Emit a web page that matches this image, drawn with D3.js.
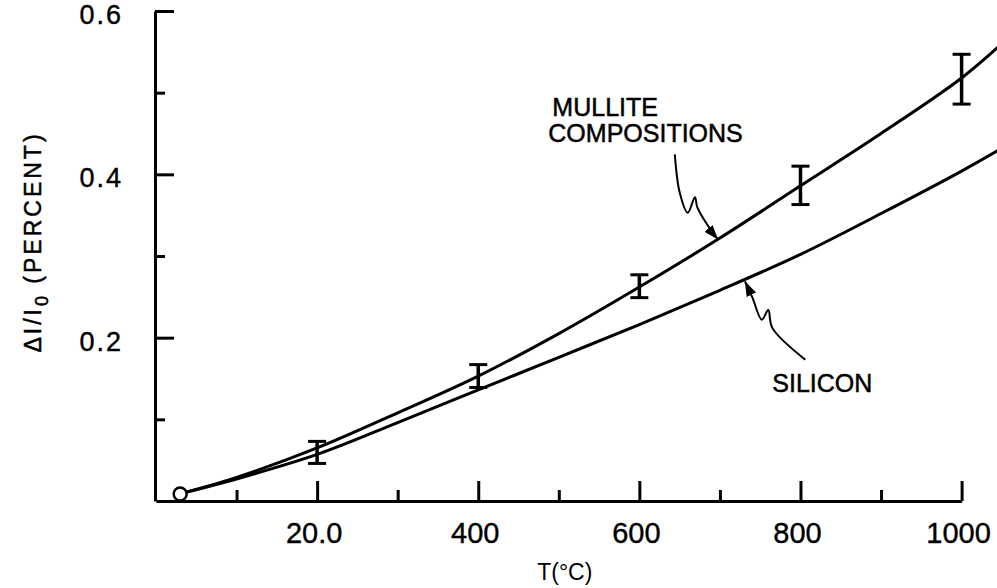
<!DOCTYPE html>
<html><head><meta charset="utf-8">
<script src="https://cdn.jsdelivr.net/npm/d3@7"></script>
<style>html,body{margin:0;padding:0;background:#fff;} svg{display:block;}</style>
</head><body>
<svg id="c" width="997" height="588"></svg>
<script>
// ---- data ----
const temps    = [30, 100, 200, 300, 400, 500, 600, 700, 800, 900, 1000, 1050];
const mullite  = [0.009, 0.029, 0.065, 0.108, 0.153, 0.205, 0.262, 0.322, 0.386, 0.450, 0.518, 0.560];
const silicon  = [0.009, 0.027, 0.057, 0.096, 0.136, 0.176, 0.216, 0.258, 0.302, 0.352, 0.404, 0.432];
const errT     = [200, 400, 600, 800, 1000];
const errLow   = [0.046, 0.139, 0.249, 0.363, 0.486];
const errHigh  = [0.073, 0.167, 0.277, 0.410, 0.547];
const startPt  = {t: 30, v: 0.0086};
const xMajor   = [200, 400, 600, 800, 1000];
const xMinor   = [100, 300, 500, 700, 900];
const xLabels  = ["20.0", "400", "600", "800", "1000"];
const yMajor   = [0.2, 0.4, 0.6];
const yMinor   = [0.1, 0.3, 0.5];
const yLabels  = ["0.2", "0.4", "0.6"];
// leader lines (data space)
const mulliteLeader = [[644,0.4245],[650,0.378],[660,0.353],[669,0.372],[672,0.3595],[690,0.330],[698,0.320]];
const siliconLeader = [[806,0.173],[765,0.212],[760,0.234],[752,0.222],[740,0.250],[731,0.269]];

const svg = d3.select("#c");
const x = d3.scaleLinear().domain([0, 1000]).range([156, 961.6]);
const y = d3.scaleLinear().domain([0, 0.6]).range([501, 11]);
const FONT = "'Liberation Sans', Arial, sans-serif";

svg.append("defs").append("marker")
  .attr("id","ah").attr("viewBox","0 0 10 10").attr("refX",10).attr("refY",5)
  .attr("markerWidth",15).attr("markerHeight",15).attr("markerUnits","userSpaceOnUse")
  .attr("orient","auto")
  .append("path").attr("d","M0,1.5 L10,5 L0,8.5 Z").attr("fill","#000");

// axes
const gx = svg.append("g").attr("transform",`translate(0,${y(0)})`);
gx.call(d3.axisBottom(x).tickValues(xMajor).tickSizeInner(-20).tickSizeOuter(0).tickFormat(""));
const gx2 = svg.append("g").attr("transform",`translate(0,${y(0)})`);
gx2.call(d3.axisBottom(x).tickValues(xMinor).tickSizeInner(-11).tickSizeOuter(0).tickFormat(""));
gx2.select(".domain").remove();
const gy = svg.append("g").attr("transform",`translate(${x(0)-1},0)`);
gy.call(d3.axisLeft(y).tickValues(yMajor).tickSizeInner(-19).tickSizeOuter(0).tickFormat(""));
const gy2 = svg.append("g").attr("transform",`translate(${x(0)-1},0)`);
gy2.call(d3.axisLeft(y).tickValues(yMinor).tickSizeInner(-10).tickSizeOuter(0).tickFormat(""));
gy2.select(".domain").remove();
svg.selectAll(".domain, .tick line").attr("stroke","#000").attr("stroke-width",3);

// tick labels
svg.append("g").selectAll("text").data(xMajor).join("text")
  .attr("x", d => x(d) - 3).attr("y", 543)
  .attr("text-anchor","middle").attr("font-family",FONT).attr("font-size",29)
  .attr("stroke","#000").attr("stroke-width",0.4)
  .text((d,i) => xLabels[i]);
svg.append("g").selectAll("text").data(yMajor).join("text")
  .attr("x", 123).attr("y", d => y(d) + 13)
  .attr("text-anchor","end").attr("font-family",FONT).attr("font-size",27)
  .attr("letter-spacing",2).attr("stroke","#000").attr("stroke-width",0.4)
  .text((d,i) => yLabels[i]);

// axis titles
svg.append("text").attr("x", x(500)+6).attr("y", 580)
  .attr("text-anchor","middle").attr("font-family",FONT).attr("font-size",23)
  .text("T(°C)");
const yt = svg.append("text")
  .attr("transform","translate(41,242) rotate(-90)")
  .attr("text-anchor","middle").attr("font-family",FONT).attr("font-size",23)
  .attr("letter-spacing",3).attr("stroke","#000").attr("stroke-width",0.5);
yt.append("tspan").text("ΔI/I");
yt.append("tspan").attr("dy",7).attr("font-size",18).text("0");
yt.append("tspan").attr("dy",-7).text(" (PERCENT)");

// curves
const line = d3.line().x(d => x(d[0])).y(d => y(d[1])).curve(d3.curveCatmullRom.alpha(0.5));
svg.append("path").datum(temps.map((t,i)=>[t,mullite[i]]))
  .attr("d",line).attr("fill","none").attr("stroke","#000").attr("stroke-width",3);
svg.append("path").datum(temps.map((t,i)=>[t,silicon[i]]))
  .attr("d",line).attr("fill","none").attr("stroke","#000").attr("stroke-width",3);

// start circle
svg.append("circle").attr("cx",x(startPt.t)).attr("cy",y(startPt.v)).attr("r",6.5)
  .attr("fill","#fff").attr("stroke","#000").attr("stroke-width",2.5);

// error bars
const eb = svg.append("g").selectAll("g").data(errT).join("g");
eb.append("line").attr("x1",d=>x(d)).attr("x2",d=>x(d))
  .attr("y1",(d,i)=>y(errLow[i])).attr("y2",(d,i)=>y(errHigh[i]))
  .attr("stroke","#000").attr("stroke-width",3.5);
[errLow, errHigh].forEach(arr => {
  eb.append("line").attr("x1",d=>x(d)-9).attr("x2",d=>x(d)+9)
    .attr("y1",(d,i)=>y(arr[i])).attr("y2",(d,i)=>y(arr[i]))
    .attr("stroke","#000").attr("stroke-width",3);
});

// annotations
const lead = d3.line().x(d => x(d[0])).y(d => y(d[1])).curve(d3.curveCatmullRom.alpha(0.5));
[mulliteLeader, siliconLeader].forEach(L => {
  svg.append("path").datum(L).attr("d",lead).attr("fill","none")
    .attr("stroke","#000").attr("stroke-width",2).attr("marker-end","url(#ah)");
});
const ann = [["MULLITE",492,0.472],["COMPOSITIONS",487,0.439],["SILICON",765,0.134]];
svg.append("g").selectAll("text").data(ann).join("text")
  .attr("x",d=>x(d[1])).attr("y",d=>y(d[2]))
  .attr("font-family",FONT).attr("font-size",25)
  .attr("stroke","#000").attr("stroke-width",0.5)
  .text(d=>d[0]);
</script>
</body></html>
